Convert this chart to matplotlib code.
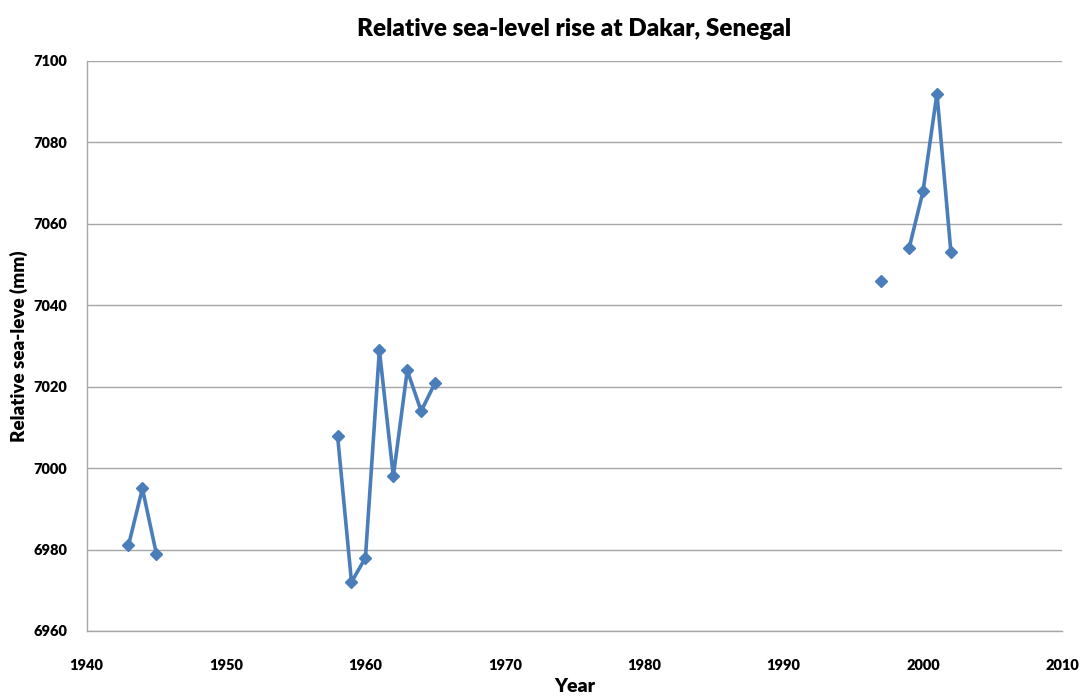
import numpy as np
import matplotlib
matplotlib.use('Agg')
import matplotlib.pyplot as plt

plt.rcParams['font.family'] = ['Lato', 'DejaVu Sans']

# annual mean relative sea level, NaN = missing year
years = np.arange(1943, 2003)
values = np.full(years.shape, np.nan)
obs = {
    1943: 6981, 1944: 6995, 1945: 6979,
    1958: 7008, 1959: 6972, 1960: 6978, 1961: 7029, 1962: 6998,
    1963: 7024, 1964: 7014, 1965: 7021,
    1997: 7046, 1999: 7054, 2000: 7068, 2001: 7092, 2002: 7053,
}
for yr, v in obs.items():
    values[years == yr] = v

x_ticks = [1940, 1950, 1960, 1970, 1980, 1990, 2000, 2010]
y_ticks = [6960, 6980, 7000, 7020, 7040, 7060, 7080, 7100]

fig = plt.figure(figsize=(10.83, 6.97), dpi=100)
ax = fig.add_axes([0.080, 0.0947, 0.901, 0.8178])

ax.plot(years, values, '-', color='#4a7ebb', lw=2.6,
        marker='D', ms=6.5, mfc='#4a7ebb', mec='#4a7ebb', zorder=3)

ax.set_xlim(1940, 2010)
ax.set_ylim(6960, 7100)
ax.set_xticks(x_ticks)
ax.set_yticks(y_ticks)
ax.yaxis.grid(True, color='#a6a6a6', lw=1.0)
ax.set_axisbelow(True)

for s in ['top', 'right']:
    ax.spines[s].set_visible(False)
for s in ['left', 'bottom']:
    ax.spines[s].set_color('#a6a6a6')
    ax.spines[s].set_linewidth(1.0)
ax.tick_params(axis='x', length=0, labelsize=10.5, pad=20)
ax.tick_params(axis='y', length=0, labelsize=10.5, pad=14)
for lab in ax.get_xticklabels() + ax.get_yticklabels():
    lab.set_fontweight('heavy')

ax.set_title('Relative sea-level rise at Dakar, Senegal', fontsize=17.5,
             fontweight='heavy', pad=18)
ax.set_xlabel('Year', fontsize=14, fontweight='heavy')
ax.set_ylabel('Relative sea-leve (mm)', fontsize=13.5, fontweight='heavy')
ax.xaxis.set_label_coords(0.5, -0.083)
ax.yaxis.set_label_coords(-0.060, 0.5)

fig.savefig('out.png', dpi=100)
